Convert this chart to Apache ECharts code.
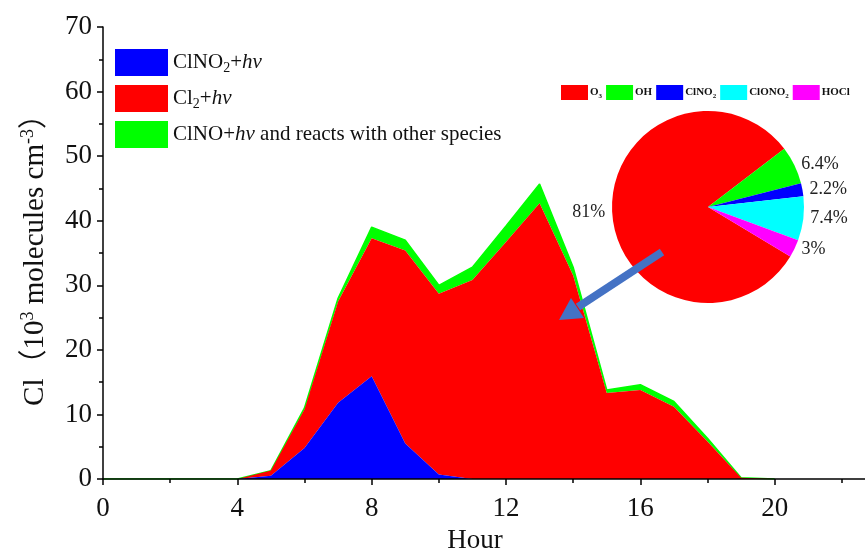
<!DOCTYPE html>
<html>
<head>
<meta charset="utf-8">
<script src="https://cdn.jsdelivr.net/npm/echarts@6/dist/echarts.min.js"></script>
<style>
html,body{margin:0;padding:0;background:#fff;}
#main{width:865px;height:549px;}
</style>
</head>
<body>
<div id="main"></div>
<script>
// hours on the x axis
var hours=[0,1,2,3,4,5,6,7,8,9,10,11,12,13,14,15,16,17,18,19,20,21,22,23,24];
// stacked contributions (10^3 molecules cm-3), one value per hour from 0 h
var clno2Hv=[0,0,0,0,0,0.5,4.8,11.8,15.9,5.5,0.7,0,0,0,0,0,0,0,0,0,0];
var cl2Hv=[0,0,0,0,0,0.8,6.0,15.7,21.4,29.9,28.0,30.8,36.7,42.7,31.5,13.3,13.8,11.2,5.8,0.2,0];
var clnoOther=[0,0,0,0,0,0,0.2,0.5,1.7,1.6,1.3,2.0,2.5,3.0,1.3,0.5,0.8,0.8,0.5,0,0];
// pie: share of sources
var pieNames=['O3','OH','ClNO2','ClONO2','HOCl'];
var pieValues=[81,6.4,2.2,7.4,3];
var pieColors=['#ff0000','#00ff00','#0000ff','#00ffff','#ff00ff'];
var seriesNames=['ClNO2+hv','Cl2+hv','ClNO+hv and reacts with other species'];

var serif='"Liberation Serif","Times New Roman",serif';
var cjkSerif='"Liberation Serif","Noto Sans CJK SC",serif';

var chart=echarts.init(document.getElementById('main'));
var legendText={
	'ClNO2+hv':'{n|ClNO}{sub|2}{n|+}{i|hv}',
	'Cl2+hv':'{n|Cl}{sub|2}{n|+}{i|hv}',
	'ClNO+hv and reacts with other species':'{n|ClNO+}{i|hv}{n| and reacts with other species}'
};
var pieLegendText={
	'O3':'{n|O}{sub|3}',
	'OH':'{n|OH}',
	'ClNO2':'{n|ClNO}{sub|2}',
	'ClONO2':'{n|ClONO}{sub|2}',
	'HOCl':'{n|HOCl}'
};
var option={
	animation:false,
	color:['#0000ff','#ff0000','#00ff00'],
	grid:{left:103,top:27,bottom:70,right:-44,containLabel:false,outerBoundsMode:'none'},
	legend:[{
		data:seriesNames,
		orient:'vertical',
		left:110,top:44,
		itemWidth:53,itemHeight:27,itemGap:9,
		icon:'rect',
		selectedMode:false,
		formatter:function(name){return legendText[name];},
		textStyle:{
			fontFamily:serif,fontSize:21,color:'#111',
			rich:{
				n:{fontFamily:serif,fontSize:21,color:'#111',lineHeight:26},
				i:{fontFamily:serif,fontSize:21,color:'#111',fontStyle:'italic',lineHeight:26},
				sub:{fontFamily:serif,fontSize:14,color:'#111',verticalAlign:'bottom',lineHeight:12}
			}
		}
	},{
		data:pieNames,
		orient:'horizontal',
		left:556,top:80,
		itemWidth:27,itemHeight:15,itemGap:4,
		icon:'rect',
		selectedMode:false,
		formatter:function(name){return pieLegendText[name];},
		textStyle:{
			fontFamily:serif,fontSize:11,fontWeight:'bold',color:'#111',padding:[0,0,0,-3],
			rich:{
				n:{fontFamily:serif,fontSize:11,fontWeight:'bold',color:'#111',lineHeight:14},
				sub:{fontFamily:serif,fontSize:7,fontWeight:'bold',color:'#111',verticalAlign:'bottom',lineHeight:8}
			}
		}
	}],
	xAxis:[{
		// hourly positions for the stacked areas (hidden)
		type:'category',
		data:hours,
		boundaryGap:false,
		position:'bottom',
		show:false
	},{
		// visible hour scale
		type:'value',
		position:'bottom',
		min:0,max:24,interval:4,
		z:10,
		name:'Hour',
		nameLocation:'middle',
		nameGap:48,
		nameTextStyle:{fontFamily:serif,fontSize:27,color:'#111',padding:[0,62,0,0]},
		axisLine:{show:true,onZero:false,lineStyle:{color:'#000',width:1.5}},
		axisTick:{show:true,inside:false,length:6,lineStyle:{color:'#000',width:1.5}},
		minorTick:{show:true,splitNumber:2,length:4,lineStyle:{color:'#000',width:1.5}},
		axisLabel:{fontFamily:serif,fontSize:27,color:'#111',margin:16},
		splitLine:{show:false}
	}],
	yAxis:{
		type:'value',
		min:0,max:70,interval:10,
		z:10,
		name:'{n|Cl（10}{sup|3}{n| molecules cm}{sup|-3}{n|）}',
		nameLocation:'middle',
		nameGap:52,
		nameTextStyle:{
			fontFamily:cjkSerif,fontSize:29,color:'#111',
			rich:{
				n:{fontFamily:cjkSerif,fontSize:29,color:'#111',lineHeight:32},
				sup:{fontFamily:serif,fontSize:18,color:'#111',verticalAlign:'top',lineHeight:17}
			}
		},
		axisLine:{show:true,lineStyle:{color:'#000',width:1.5}},
		axisTick:{show:true,inside:false,length:6,lineStyle:{color:'#000',width:1.5}},
		minorTick:{show:true,splitNumber:2,length:4,lineStyle:{color:'#000',width:1.5}},
		axisLabel:{fontFamily:serif,fontSize:27,color:'#111',margin:11},
		splitLine:{show:false}
	},
	series:[{
		name:seriesNames[0],
		type:'line',
		xAxisIndex:0,
		stack:'cl',
		symbol:'none',
		lineStyle:{width:0},
		areaStyle:{color:'#0000ff',opacity:1},
		z:3,
		data:clno2Hv
	},{
		name:seriesNames[1],
		type:'line',
		xAxisIndex:0,
		stack:'cl',
		symbol:'none',
		lineStyle:{width:0},
		areaStyle:{color:'#ff0000',opacity:1},
		z:2,
		data:cl2Hv
	},{
		name:seriesNames[2],
		type:'line',
		xAxisIndex:0,
		stack:'cl',
		symbol:'none',
		lineStyle:{width:1.5,color:'#00ff00'},
		areaStyle:{color:'#00ff00',opacity:1},
		z:1,
		data:clnoOther
	},{
		name:'source',
		type:'pie',
		center:[708,207],
		radius:[0,96],
		startAngle:-31,
		clockwise:true,
		percentPrecision:1,
		avoidLabelOverlap:false,
		z:5,
		label:{
			show:true,
			position:'outside',
			formatter:'{d}%',
			fontFamily:serif,fontSize:18,color:'#222'
		},
		labelLine:{show:false,length:2,length2:0},
		emphasis:{disabled:true},
		data:pieNames.map(function(n,i){
			return {name:n,value:pieValues[i],itemStyle:{color:pieColors[i]}};
		})
	}],
	graphic:[{
		type:'line',
		shape:{x1:662,y1:252,x2:578,y2:307},
		style:{stroke:'#4472c4',lineWidth:8},
		z:100
	},{
		type:'polygon',
		shape:{points:[[559,320],[584,318],[571,298]]},
		style:{fill:'#4472c4'},
		z:100
	}]
};
chart.setOption(option);
window.addEventListener('resize',function(){
	chart.resize();
});
</script>
</body>
</html>
